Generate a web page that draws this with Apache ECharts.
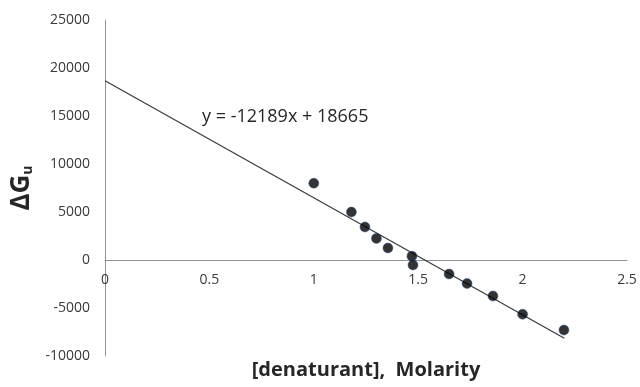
<!DOCTYPE html>
<html><head><meta charset="utf-8">
<script src="https://cdn.jsdelivr.net/npm/echarts@6/dist/echarts.min.js"></script>
<style>html,body{margin:0;padding:0;background:#fff}#c{width:640px;height:387px}</style>
</head><body><div id="c"></div>
<script>
const pointX = [1.00, 1.18, 1.245, 1.30, 1.355, 1.47, 1.475, 1.648, 1.734, 1.858, 2.00, 2.198];
const pointY = [8000, 5000, 3440, 2250, 1250, 400, -520, -1460, -2450, -3750, -5650, -7300];
const trendX = [0, 2.2];
const trendY = [18665, -8151];
const xTicks = [0, 0.5, 1, 1.5, 2, 2.5];
const yTicks = [-10000, -5000, 0, 5000, 10000, 15000, 20000, 25000];
const equationText = 'y = -12189x + 18665';
const xTitle = '[denaturant],  Molarity';

const font = 'Open Sans';
const chart = echarts.init(document.getElementById('c'));
chart.setOption({
  animation: false,
  grid: {left: 105, right: 13, top: 20, bottom: 31, containLabel: false, outerBoundsMode: 'none'},
  xAxis: {
    type: 'value', min: xTicks[0], max: xTicks[xTicks.length-1], interval: 0.5,
    offset: -96,
    axisLine: {onZero: false, lineStyle: {color: '#8a9494', width: 1}},
    axisTick: {show: false},
    splitLine: {show: false},
    axisLabel: {color: '#3a3a3a', fontSize: 14, fontFamily: font, margin: 13, formatter: v => String(v)},
    name: xTitle, nameLocation: 'middle', nameGap: 100, nameMoveOverlap: false,
    nameTextStyle: {color: '#262626', fontSize: 20, fontWeight: 'bold', fontFamily: font}
  },
  yAxis: {
    type: 'value', min: yTicks[0], max: yTicks[yTicks.length-1], interval: 5000,
    axisLine: {show: true, onZero: false, lineStyle: {color: '#8a9494', width: 1}},
    axisTick: {show: false},
    splitLine: {show: false},
    axisLabel: {color: '#3a3a3a', fontSize: 14, fontFamily: font, margin: 15, formatter: v => String(v)},
    name: '{a|ΔG}{b|u}', nameLocation: 'middle', nameGap: 70, nameRotate: 90, nameMoveOverlap: false,
    nameTextStyle: {
      rich: {
        a: {fontSize: 26, fontWeight: 'bold', color: '#262626', fontFamily: font},
        b: {fontSize: 14, fontWeight: 'bold', color: '#262626', fontFamily: font, padding: [12, 0, 0, 0]}
      }
    }
  },
  graphic: [{
    type: 'text', left: 202, top: 108,
    style: {text: equationText, fontSize: 18, fontFamily: font, fill: '#262626'}
  }],
  series: [{
    type: 'line', data: trendX.map((x, i) => [x, trendY[i]]),
    symbol: 'none', lineStyle: {color: '#3a3a3a', width: 1.2}, z: 2
  }, {
    type: 'scatter', data: pointX.map((x, i) => [x, pointY[i]]),
    symbolSize: 10, itemStyle: {color: '#000', borderColor: '#2f5a95', borderWidth: 0.6}, z: 3
  }]
});
</script></body></html>
